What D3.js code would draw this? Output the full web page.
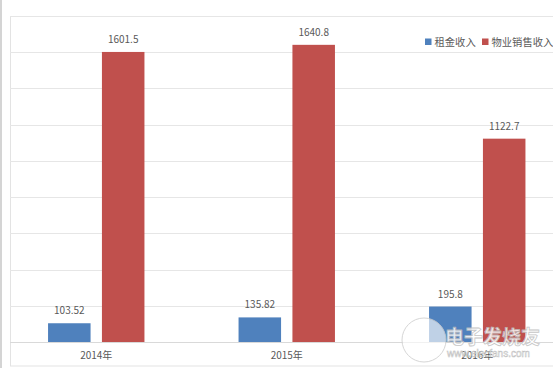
<!DOCTYPE html>
<html>
<head>
<meta charset="utf-8">
<script src="https://cdn.jsdelivr.net/npm/d3@7"></script>
<style>
  body { margin: 0; background: #fff; }
  svg { display: block; font-family: "Noto Sans CJK SC", "Liberation Sans", sans-serif; }
</style>
</head>
<body>
<svg id="chart" width="553" height="369"></svg>
<script>
// chart data
var years = ["2014年", "2015年", "2016年"];
var seriesNames = ["租金收入", "物业销售收入"];
var rent = [103.52, 135.82, 195.8];
var sales = [1601.5, 1640.8, 1122.7];
var rentLabels = ["103.52", "135.82", "195.8"];
var salesLabels = ["1601.5", "1640.8", "1122.7"];
var gridTicks = [0, 200, 400, 600, 800, 1000, 1200, 1400, 1600, 1800];
var colors = ["#4F81BD", "#C0504D"];

var svg = d3.select("#chart");
var width = 553, height = 369;

// outer frame bits
svg.append("line")
    .attr("x1", 1).attr("x2", 1).attr("y1", 0).attr("y2", 368)
    .attr("stroke", "#d4d4d4").attr("stroke-width", 2);

svg.append("rect")
    .attr("x", 10.5).attr("y", 16.5)
    .attr("width", 560).attr("height", 349.5)
    .attr("fill", "none").attr("stroke", "#e3e3e3");

var y = d3.scaleLinear().domain([0, 1800]).range([342, 16]);
var x0 = d3.scaleBand().domain(years).range([1, 572.5]).padding(0);
var x1 = d3.scaleBand().domain(seriesNames).range([-48.2, 48.2]).paddingInner(0.211);

// gridlines
svg.append("g").selectAll("line")
    .data(gridTicks)
    .enter().append("line")
    .attr("x1", 10).attr("x2", width)
    .attr("y1", function(d) { return Math.round(y(d)) + 0.5; })
    .attr("y2", function(d) { return Math.round(y(d)) + 0.5; })
    .attr("stroke", function(d) { return d === 0 ? "#d9d9d9" : "#e6e6e6"; });

// bars
var data = years.map(function(yr, i) {
    return [
        {year: yr, s: seriesNames[0], v: rent[i], label: rentLabels[i], c: colors[0]},
        {year: yr, s: seriesNames[1], v: sales[i], label: salesLabels[i], c: colors[1]}
    ];
});

var groups = svg.append("g").selectAll("g")
    .data(data)
    .enter().append("g")
    .attr("transform", function(d) { return "translate(" + (x0(d[0].year) + x0.bandwidth() / 2) + ",0)"; });

groups.selectAll("rect")
    .data(function(d) { return d; })
    .enter().append("rect")
    .attr("x", function(d) { return x1(d.s); })
    .attr("width", x1.bandwidth())
    .attr("y", function(d) { return y(d.v); })
    .attr("height", function(d) { return y(0) - y(d.v); })
    .attr("fill", function(d) { return d.c; });

groups.selectAll("text")
    .data(function(d) { return d; })
    .enter().append("text")
    .attr("x", function(d) { return x1(d.s) + x1.bandwidth() / 2; })
    .attr("y", function(d) { return y(d.v) - 9; })
    .attr("text-anchor", "middle")
    .attr("font-size", 10)
    .attr("fill", "#595959")
    .text(function(d) { return d.label; });

// x axis labels
var xAxis = d3.axisBottom(x0).tickSize(0).tickPadding(10);
var gx = svg.append("g")
    .attr("transform", "translate(0," + y(0) + ")")
    .call(xAxis);
gx.select(".domain").remove();
gx.selectAll("text")
    .attr("font-size", 10)
    .attr("font-family", "\"Noto Sans CJK SC\", sans-serif")
    .attr("fill", "#595959");

// legend
var legend = svg.append("g").attr("transform", "translate(425,42)");
var legX = [0, 57];
seriesNames.forEach(function(name, i) {
    var g = legend.append("g").attr("transform", "translate(" + legX[i] + ",0)");
    g.append("rect").attr("x", 0).attr("y", -3.5).attr("width", 6.5).attr("height", 6.5).attr("fill", colors[i]);
    g.append("text")
        .attr("x", 9.5).attr("y", 4)
        .attr("font-size", 10.3)
        .attr("fill", "#595959")
        .text(name);
});

// site watermark (lies over the bottom right of the chart, as in the source image)
var wm = svg.append("g").attr("opacity", 0.85);
wm.append("circle").attr("cx", 424).attr("cy", 340).attr("r", 22)
    .attr("fill", "#fff").attr("fill-opacity", 0.75).attr("stroke", "#d0d0d0");
wm.append("text").attr("x", 445).attr("y", 344)
    .attr("font-size", 19).attr("font-weight", "bold")
    .attr("fill", "#fff").attr("stroke", "#bdbdbd").attr("stroke-width", 0.8)
    .text("电子发烧友");
wm.append("text").attr("x", 447).attr("y", 357)
    .attr("font-size", 10).attr("fill", "#fff").attr("stroke", "#b5b5b5").attr("stroke-width", 0.5)
    .attr("font-family", "Liberation Sans, sans-serif")
    .text("www.elecfans.com");
</script>
</body>
</html>
